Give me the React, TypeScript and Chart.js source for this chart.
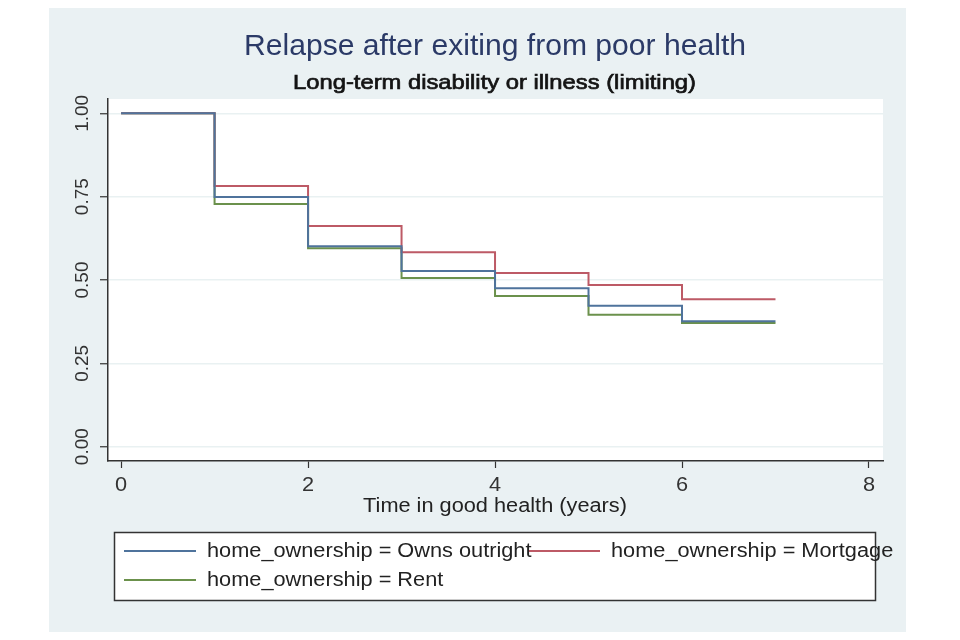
import React, { useEffect, useRef } from "react";
import { Chart, registerables } from "chart.js";
Chart.register(...registerables);

const times = [0, 1, 2, 3, 4, 5, 6, 7];
const ownsOutright = [1, 0.749, 0.601, 0.527, 0.475, 0.423, 0.376, 0.376];
const mortgage = [1, 0.782, 0.662, 0.583, 0.521, 0.485, 0.442, 0.442];
const rent = [1, 0.728, 0.595, 0.506, 0.452, 0.396, 0.371, 0.371];
const seriesLabels = [
  "home_ownership = Owns outright",
  "home_ownership = Mortgage",
  "home_ownership = Rent",
];
const seriesColors = ["#4f739c", "#bd5a66", "#6b914c"];
const xTicks = [0, 2, 4, 6, 8];
const xTickLabels = ["0", "2", "4", "6", "8"];
const yTicks = [0, 0.25, 0.5, 0.75, 1];
const yTickLabels = ["0.00", "0.25", "0.50", "0.75", "1.00"];
const titleText = "Relapse after exiting from poor health";
const subtitleText = "Long-term disability or illness (limiting)";
const xTitleText = "Time in good health (years)";

const FONT = "'Liberation Sans', Arial, sans-serif";
const TEXT_STRETCH = 1.115;

function drawText(ctx: any, text: string, x: number, y: number, font: string, color: string, sx: number, align: "left" | "center", strokeW = 0) {
  ctx.save();
  ctx.font = font;
  ctx.fillStyle = color;
  ctx.textBaseline = "middle";
  ctx.textAlign = align;
  ctx.translate(x, y);
  ctx.scale(sx, 1);
  ctx.fillText(text, 0, 0);
  if (strokeW > 0) {
    ctx.strokeStyle = color;
    ctx.lineWidth = strokeW;
    ctx.strokeText(text, 0, 0);
  }
  ctx.restore();
}

function fitScale(ctx: any, text: string, font: string, target: number) {
  ctx.save();
  ctx.font = font;
  const w = ctx.measureText(text).width;
  ctx.restore();
  return target / w;
}

const decorPlugin = {
  id: "decor",
  beforeDraw(chart: any) {
    const { ctx, chartArea } = chart;
    ctx.save();
    ctx.fillStyle = "#ffffff";
    ctx.fillRect(0, 0, chart.width, chart.height);
    ctx.fillStyle = "#eaf1f3";
    ctx.fillRect(49, 8, 857, 624);
    ctx.fillStyle = "#ffffff";
    ctx.fillRect(chartArea.left, chartArea.top, chartArea.right - chartArea.left, chartArea.bottom - chartArea.top);
    ctx.restore();
  },
  afterDraw(chart: any) {
    const { ctx } = chart;
    const yScale = chart.scales.y;
    const xScale = chart.scales.x;
    ctx.save();
    // titles
    const tFont = `29px ${FONT}`;
    drawText(ctx, titleText, 495, 47, tFont, "#2b3a67", fitScale(ctx, titleText, tFont, 502), "center");
    const sFont = `21px ${FONT}`;
    drawText(ctx, subtitleText, 494.5, 83, sFont, "#141414", fitScale(ctx, subtitleText, sFont, 403), "center", 0.7);
    // x title
    const aFont = `19.5px ${FONT}`;
    drawText(ctx, xTitleText, 495, 507, aFont, "#222222", TEXT_STRETCH, "center");
    // x tick labels
    xTicks.forEach((v, i) => {
      drawText(ctx, xTickLabels[i], xScale.getPixelForValue(v), 486, aFont, "#333333", TEXT_STRETCH, "center");
    });
    // y tick labels rotated
    ctx.fillStyle = "#333333";
    ctx.font = `19px ${FONT}`;
    yTicks.forEach((v, i) => {
      const py = yScale.getPixelForValue(v);
      ctx.save();
      ctx.translate(83, py);
      ctx.rotate(-Math.PI / 2);
      ctx.textAlign = "center";
      ctx.textBaseline = "middle";
      ctx.fillText(yTickLabels[i], 0, 0);
      ctx.restore();
    });
    // legend
    ctx.fillStyle = "#ffffff";
    ctx.fillRect(114, 532, 762, 69);
    ctx.strokeStyle = "#333333";
    ctx.lineWidth = 1.5;
    ctx.strokeRect(114.5, 532.5, 761, 68);
    const items = [
      { x: 124, y: 551 },
      { x: 528, y: 551 },
      { x: 124, y: 580 },
    ];
    items.forEach((it, i) => {
      ctx.strokeStyle = seriesColors[i];
      ctx.lineWidth = 2;
      ctx.beginPath();
      ctx.moveTo(it.x, it.y);
      ctx.lineTo(it.x + 72, it.y);
      ctx.stroke();
    });
    items.forEach((it, i) => {
      drawText(ctx, seriesLabels[i], it.x + 83, it.y + 1, aFont, "#222222", TEXT_STRETCH, "left");
    });
    ctx.restore();
  },
};

export default function App() {
  const ref = useRef<HTMLCanvasElement | null>(null);
  useEffect(() => {
    document.body.style.margin = "0";
    document.body.style.overflow = "hidden";
    const mk = (vals: number[]) => times.map((t, i) => ({ x: t, y: vals[i] }));
    const series = [ownsOutright, mortgage, rent];
    const chart = new Chart(ref.current as HTMLCanvasElement, {
      type: "line",
      data: {
        datasets: series.map((vals, i) => ({
          label: seriesLabels[i],
          data: mk(vals),
          borderColor: seriesColors[i],
          borderWidth: 2,
          pointRadius: 0,
          stepped: "before" as const,
          tension: 0,
          fill: false,
        })),
      },
      options: {
        animation: false,
        responsive: false,
        devicePixelRatio: 1,
        layout: { padding: { top: 99, left: 68, right: 77, bottom: 139 } },
        plugins: { legend: { display: false }, title: { display: false }, tooltip: { enabled: false } },
        scales: {
          x: {
            type: "linear",
            min: -0.14,
            max: 8.15,
            afterBuildTicks: (s: any) => {
              s.ticks = xTicks.map((v) => ({ value: v }));
            },
            afterFit: (s: any) => {
              s.height = 40;
            },
            grid: { display: true, drawOnChartArea: false, drawTicks: true, tickLength: 7, tickColor: "#333333", tickWidth: 1.2 },
            border: { display: true, color: "#333333", width: 1.5 },
            ticks: { display: false },
          },
          y: {
            type: "linear",
            min: -0.043,
            max: 1.043,
            afterBuildTicks: (s: any) => {
              s.ticks = yTicks.map((v) => ({ value: v }));
            },
            afterFit: (s: any) => {
              s.width = 40;
            },
            grid: { display: true, drawOnChartArea: true, color: "#e9f1f2", lineWidth: 1.5, drawTicks: true, tickLength: 8, tickColor: "#333333", tickWidth: 1.2 },
            border: { display: true, color: "#333333", width: 1.5 },
            ticks: { display: false },
          },
        },
      },
      plugins: [decorPlugin],
    });
    return () => chart.destroy();
  }, []);
  return <canvas ref={ref} width={960} height={640} style={{ display: "block" }} />;
}
